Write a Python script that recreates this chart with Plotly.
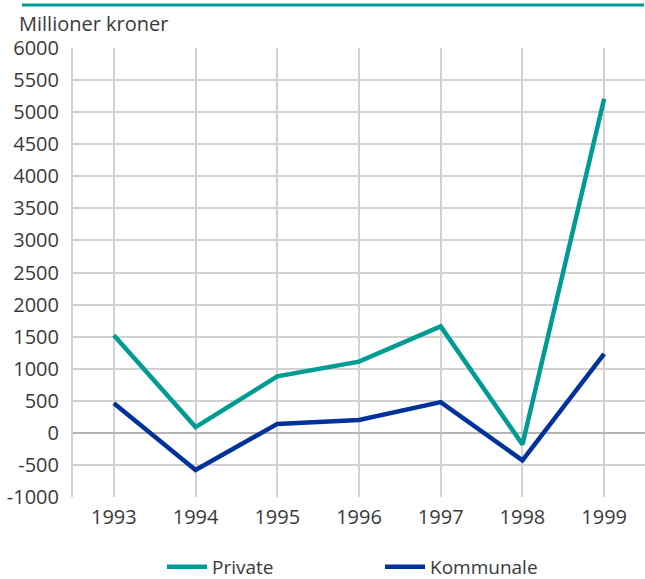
import plotly.graph_objects as go

years = [1993, 1994, 1995, 1996, 1997, 1998, 1999]
private = [1520, 90, 880, 1110, 1660, -180, 5210]
kommunale = [460, -580, 140, 200, 480, -430, 1230]
y_ticks = list(range(-1000, 6001, 500))
y_labels = [str(v) for v in y_ticks]

teal = "#009B95"
navy = "#00339A"
txt = "#3a3a3a"

fig = go.Figure()
fig.add_trace(go.Scatter(x=years, y=private, name="Private", mode="lines",
                         line=dict(color=teal, width=4.5)))
fig.add_trace(go.Scatter(x=years, y=kommunale, name="Kommunale", mode="lines",
                         line=dict(color=navy, width=4.5)))

W, H = 645, 579
L, R, T, B = 73, 0, 48, 82
pw, ph = W - L - R, H - T - B

fig.update_layout(
    width=W, height=H,
    margin=dict(l=L, r=R, t=T, b=B, autoexpand=False),
    paper_bgcolor="white", plot_bgcolor="white",
    font=dict(family="Open Sans", size=19, color=txt),
    showlegend=True,
    legend=dict(orientation="h", x=(162 - L) / pw, xanchor="left",
                y=-(567 - T - ph) / ph, yanchor="middle",
                entrywidth=163, entrywidthmode="pixels",
                font=dict(size=19, color=txt), itemwidth=40),
    xaxis=dict(range=[1992.5, 1999.5], tickvals=years, ticktext=[str(y) for y in years],
               showgrid=True, gridcolor="#d2d2d2", gridwidth=2, automargin=False,
               showline=False, zeroline=False, ticks="", ticklabelstandoff=6,
               tickfont=dict(size=20)),
    yaxis=dict(range=[-1000, 6000], tickvals=y_ticks, ticktext=y_labels,
               showgrid=True, gridcolor="#d2d2d2", gridwidth=2, automargin=False,
               zeroline=True, zerolinecolor="#b4b4b4", zerolinewidth=2,
               showline=True, linecolor="#d2d2d2", linewidth=2,
               ticks="", ticklabelstandoff=8, tickfont=dict(size=20)),
)

fig.add_shape(type="line", xref="paper", yref="paper",
              x0=(22 - L) / pw, x1=(644 - L) / pw,
              y0=1 + (T - 5) / ph, y1=1 + (T - 5) / ph,
              line=dict(color=teal, width=3))
fig.add_annotation(text="Millioner kroner", xref="paper", yref="paper",
                   x=(17 - L) / pw, xanchor="left",
                   y=1 + (T - 23) / ph, yanchor="middle",
                   showarrow=False, font=dict(size=20, color=txt))

fig.write_html("out.html", config={"displayModeBar": False},
               post_script="document.body.style.margin='0';")
